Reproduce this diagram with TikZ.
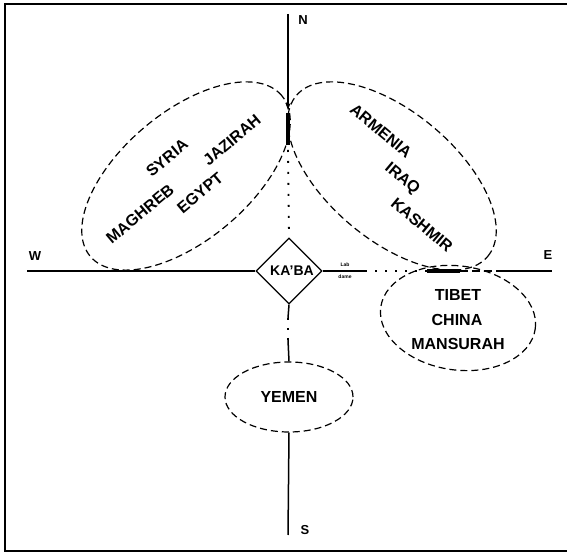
\documentclass[tikz,border=0pt]{standalone}
\usepackage{fontspec}
\setmainfont{Liberation Sans}
\usetikzlibrary{shapes.geometric,arrows.meta}
\begin{document}
\begin{tikzpicture}[x=1pt,y=1pt,
  axis/.style={line width=1.5pt},
  region/.style={draw,ellipse,dash pattern=on 7pt off 4pt,line width=1.2pt,inner sep=0pt},
  lbl/.style={font=\fontsize{16}{16}\selectfont\bfseries,inner sep=0pt},
  compass/.style={font=\fontsize{13}{13}\selectfont\bfseries,inner sep=0pt},
  tinylbl/.style={font=\fontsize{5}{5}\selectfont\bfseries,inner sep=0pt}]
\useasboundingbox (0,0) rectangle (567,553);
% frame (no right side)
\draw[line width=2pt] (567,549) -- (5,549) -- (5,2) -- (567,2);
% regions
\node[region,minimum width=250pt,minimum height=128pt,rotate=40] (west) at (186,377) {};
\node[region,minimum width=250pt,minimum height=128pt,rotate=-40] (east) at (392,377) {};
\node[region,minimum width=156pt,minimum height=104pt,rotate=-8] (tibet) at (458,235) {};
\node[region,minimum width=128pt,minimum height=70pt] (yemen) at (289,156) {};
% Kaaba
\node[draw,diamond,minimum width=66pt,minimum height=66pt,inner sep=0pt,line width=1.2pt] (kaaba) at (289,282) {};
\node[font=\fontsize{14}{14}\selectfont\bfseries,inner sep=0pt] (kaabatext) at (292,282) {KA'BA};
% compass points
\coordinate (ntop) at (288,539);
\coordinate (narr) at (288,443);
\coordinate (nthk1) at (288,440);
\coordinate (nthk2) at (288,408);
\coordinate (ndot) at (288,403);
\coordinate (wend) at (27,282);
\coordinate (e1) at (365,282);
\coordinate (e2) at (427,282);
\coordinate (e3) at (460,282);
\coordinate (e4) at (503,282);
\coordinate (eend) at (552,282);
\coordinate (s1) at (288,235);
\coordinate (s2) at (288,213);
\coordinate (send) at (288,18);
\draw[axis,-{Stealth[length=7pt,width=5pt]}] (ntop) -- (narr);
\draw[line width=4pt] (nthk1) -- (nthk2);
\draw[line width=1.8pt,dash pattern=on 2pt off 9pt] (ndot) -- (kaaba.north);
\draw[axis] (wend) -- (kaaba.west);
\draw[axis] (kaaba.east) -- (e1);
\draw[line width=1.8pt,dash pattern=on 2pt off 8pt] (e1) -- (e2);
\draw[line width=4pt] (e2) -- (e3);
\draw[axis,dash pattern=on 8pt off 4pt] (e3) -- (e4);
\draw[axis] (e4) -- (eend);
\draw[axis] (kaaba.south) -- (s1);
\draw[line width=1.8pt,dash pattern=on 2pt off 8pt] (s1) -- (s2);
\draw[axis] (s2) -- (yemen.north);
\draw[axis] (yemen.south) -- (send);
\node[tinylbl] (lab) at (345,288) {Lab};
\node[tinylbl] (dame) at (345,276) {dame};
\node[compass] (N) at (303,533) {N};
\node[compass] (S) at (305,23) {S};
\node[compass] (W) at (35,297) {W};
\node[compass] (E) at (548,298) {E};
% names
\node[lbl,rotate=40] (syria) at (167,395) {SYRIA};
\node[lbl,rotate=40] (jazirah) at (232,413) {JAZIRAH};
\node[lbl,rotate=40] (maghreb) at (140,339) {MAGHREB};
\node[lbl,rotate=40] (egypt) at (200,360) {EGYPT};
\node[lbl,rotate=-40] (armenia) at (381,422) {ARMENIA};
\node[lbl,rotate=-40] (iraq) at (402,374) {IRAQ};
\node[lbl,rotate=-40] (kashmir) at (422,328) {KASHMIR};
\node[lbl] (tib) at (458,258) {TIBET};
\node[lbl] (china) at (457,233) {CHINA};
\node[lbl] (mansurah) at (458,209) {MANSURAH};
\node[lbl] (yem) at (289,156) {YEMEN};
\end{tikzpicture}
\end{document}
